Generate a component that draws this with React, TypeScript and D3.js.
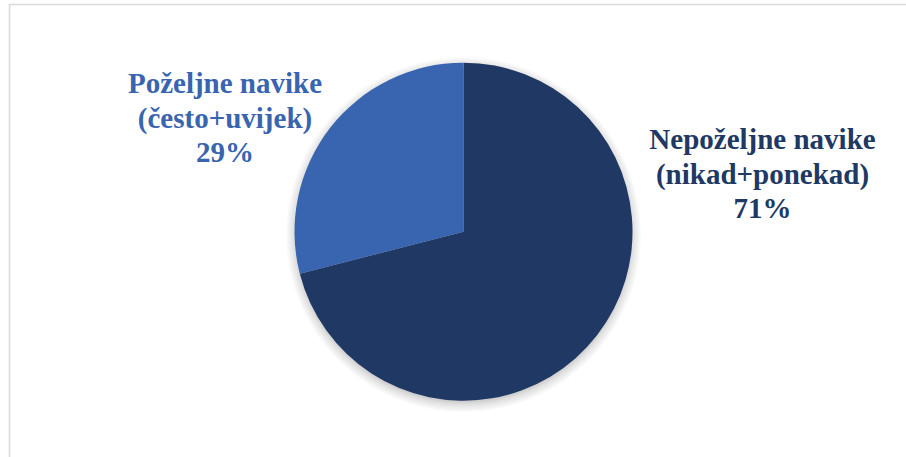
import React from "react";
import * as d3 from "d3";

const categories = ["Nepoželjne navike", "Poželjne navike"];
const subLabels = ["(nikad+ponekad)", "(često+uvijek)"];
const values = [71, 29];
const colors = ["#203864", "#3864b0"];

const W = 906;
const H = 457;
const cx = 463.5;
const cy = 231.7;
const R = 169;
const FONT = "Liberation Serif";

// label centres (x) and first-line baselines (y) – layout only
const labelLayout = [
  { x: 762.5, y: 149 },
  { x: 225, y: 93 },
];
const lineGap = 34.5;

export default function App() {
  const pie = d3.pie<number>().sort(null).value((d) => d)(values);
  const arc = d3.arc<d3.PieArcDatum<number>>().innerRadius(0).outerRadius(R);
  const total = d3.sum(values);
  const SR = R + 9;
  return (
    <svg width={W} height={H} style={{ position: "absolute", left: 0, top: 0 }}>
      <defs>
        <radialGradient id="shg" cx="50%" cy="50%" r="50%">
          <stop offset={(R - 6) / SR} stopColor="#000" stopOpacity={0.28} />
          <stop offset={(R + 1) / SR} stopColor="#000" stopOpacity={0.12} />
          <stop offset={1} stopColor="#000" stopOpacity={0} />
        </radialGradient>
      </defs>
      <rect x={9.5} y={4.5} width={W} height={H} fill="#fff" stroke="#d9d9d9" strokeWidth={1.5} />
      <circle cx={cx} cy={cy + 3} r={SR} fill="url(#shg)" />
      <g transform={`translate(${cx},${cy})`}>
        {pie.map((p, i) => (
          <path key={i} d={arc(p) || ""} fill={colors[i]} />
        ))}
      </g>
      {pie.map((p, i) => {
        const L = labelLayout[i];
        const pct = Math.round((p.data / total) * 100) + "%";
        const lines = [categories[i], subLabels[i], pct];
        return lines.map((t, j) => (
          <text
            key={i + "-" + j}
            x={L.x}
            y={L.y + j * lineGap}
            textAnchor="middle"
            fill={colors[i]}
            fontFamily={FONT}
            fontWeight="bold"
            fontSize={29}
          >
            {t}
          </text>
        ));
      })}
    </svg>
  );
}
